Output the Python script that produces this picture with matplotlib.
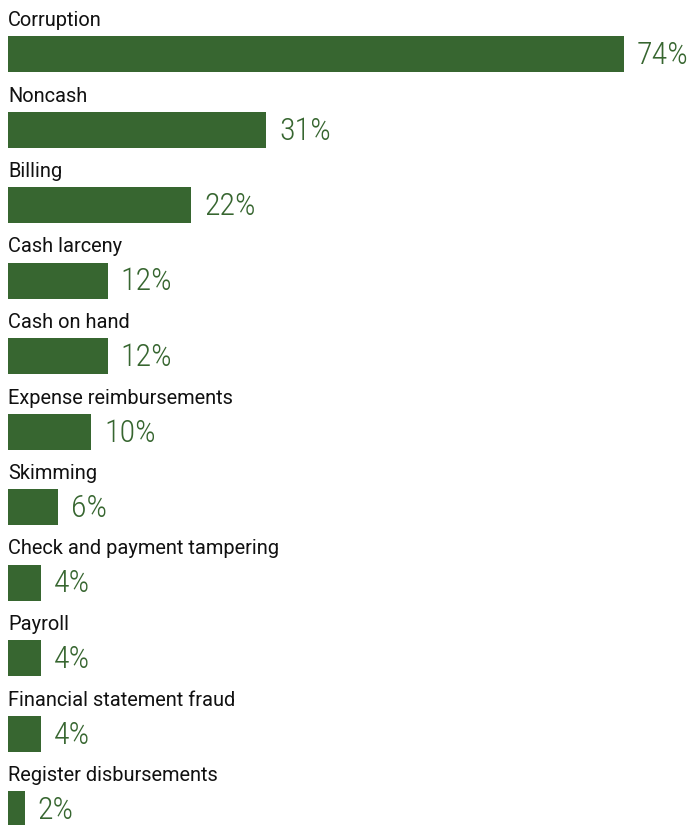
import matplotlib
matplotlib.use("Agg")
import matplotlib.pyplot as plt

categories = [
    "Corruption",
    "Noncash",
    "Billing",
    "Cash larceny",
    "Cash on hand",
    "Expense reimbursements",
    "Skimming",
    "Check and payment tampering",
    "Payroll",
    "Financial statement fraud",
    "Register disbursements",
]
values = [74, 31, 22, 12, 12, 10, 6, 4, 4, 4, 2]

GREEN = "#376630"
PX_PER_PCT = 8.32
ROW_PX = 75.5

fig = plt.figure(figsize=(6.87, 8.25), dpi=100)
ax = fig.add_axes([0, 0, 1, 1])
ax.set_xlim(-8 / PX_PER_PCT, (687 - 8) / PX_PER_PCT)
ax.set_ylim((825 - 54) / ROW_PX, -54 / ROW_PX)
ax.axis("off")

rows = list(range(len(categories)))
ax.barh(rows, values, height=36 / ROW_PX, color=GREEN, left=0)

for i, (cat, v) in enumerate(zip(categories, values)):
    ax.text(0, i - 28 / ROW_PX, cat, fontsize=14.4, family=["Roboto", "DejaVu Sans"],
            color="#111111", ha="left", va="baseline")
    # value labels sit just right of the bar end
    ax.text(v + 13 / PX_PER_PCT, i + 10 / ROW_PX, f"{v}%", fontsize=23,
            family=["Roboto Condensed", "DejaVu Sans"],
            weight="light", color=GREEN, ha="left", va="baseline")

fig.savefig("out.png", dpi=100)
